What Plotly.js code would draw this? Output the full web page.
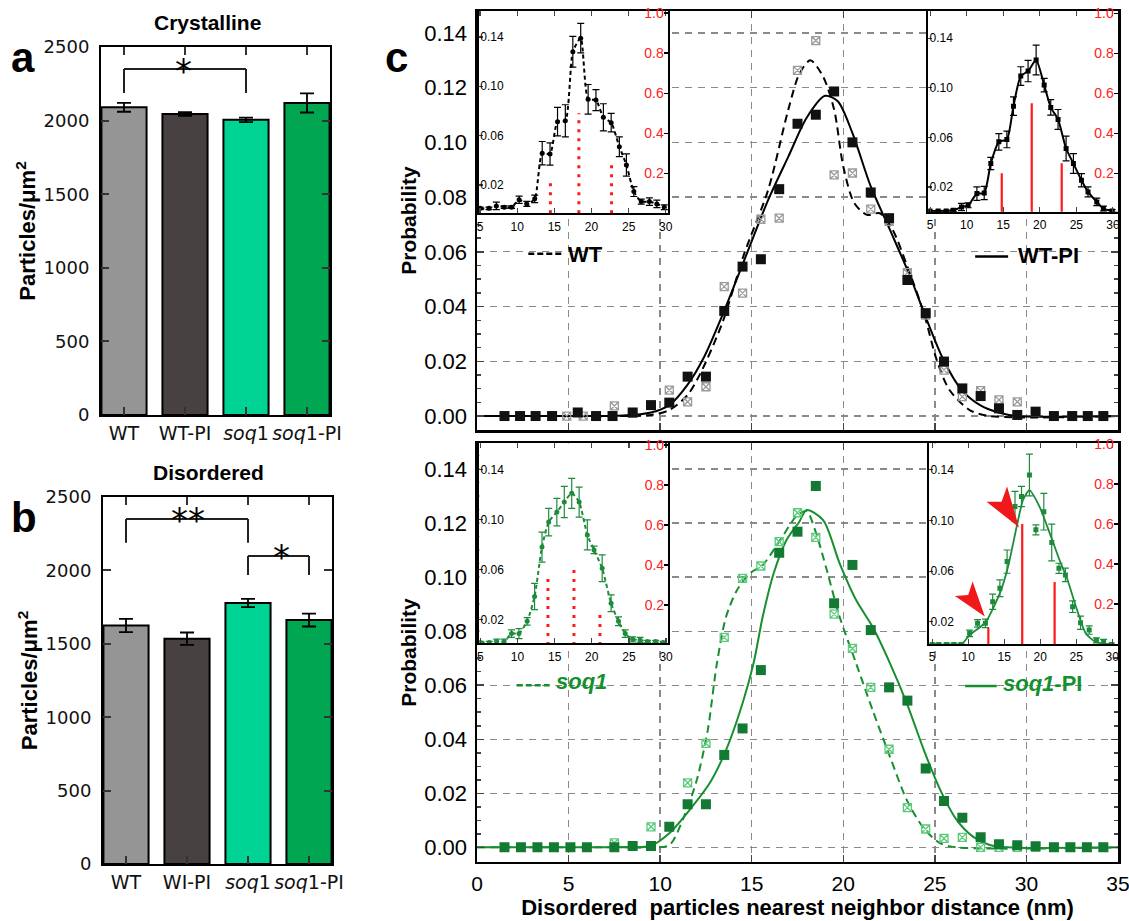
<!DOCTYPE html>
<html><head><meta charset="utf-8">
<script src="https://cdn.plot.ly/plotly-3.0.1.min.js"></script>
<style>html,body{margin:0;padding:0;background:#fff}</style>
</head><body><div id="chart" style="width:1129px;height:921px"></div>
<script>
// ---------------- DATA ----------------
// panels a / b (bar charts)
const barCatsA = ['WT', 'WT-PI', '<i>soq</i>1', '<i>soq</i>1-PI'];
const barCatsB = ['WT', 'WI-PI', '<i>soq</i>1', '<i>soq</i>1-PI'];
const crystallineVals = [2090, 2045, 2005, 2120];
const crystallineErr = [30, 12, 15, 65];
const disorderedVals = [1625, 1535, 1778, 1662];
const disorderedErr = [45, 42, 28, 44];
const barColors = ['#959595', '#474142', '#00d495', '#00a651'];

// panel c, top: WT / WT-PI histograms
const wtpiX = [1.5, 2.35, 3.2, 4.1, 5.5, 6.5, 7.4, 8.5, 9.5, 10.5, 11.5, 12.5, 13.5, 14.5, 15.5, 16.5, 17.5, 18.5, 19.5, 20.5, 21.5, 22.5, 23.5, 24.5, 25.5, 26.5, 27.5, 28.5, 29.5, 30.5, 31.5, 32.5, 33.35, 34.2];
const wtpiY = [0, 0, 0, 0, 0.0013, 0, 0, 0.0013, 0.004, 0.0049, 0.0144, 0.0144, 0.0384, 0.0546, 0.0573, 0.0829, 0.1068, 0.1101, 0.1186, 0.100, 0.0817, 0.0723, 0.0497, 0.0376, 0.0199, 0.0101, 0.0073, 0.0028, 0.0004, 0.0016, 0, 0, 0, 0];
const wtX = [4.9, 5.8, 7.5, 8.5, 10.5, 11.5, 12.5, 13.5, 14.5, 15.5, 16.5, 17.5, 18.5, 19.5, 20.5, 21.5, 22.5, 23.5, 24.5, 25.5, 26.5, 27.5, 28.5, 29.5, 30.5, 31.5, 32.5, 33.35, 34.2];
const wtY = [0, 0, 0.0037, 0.001, 0.0095, 0.0052, 0.0107, 0.0473, 0.0449, 0.0719, 0.0723, 0.1263, 0.1372, 0.0881, 0.0888, 0.0756, 0.0711, 0.0524, 0.0369, 0.0168, 0.0071, 0.0093, 0.0059, 0.0052, 0.0014, 0, 0, 0, 0];
const wtFitX = [0, 5, 8, 9.5, 10.5, 11.5, 12.2, 13.4, 14.6, 15.9, 17.0, 17.6, 18.2, 18.9, 19.5, 20.0, 20.6, 21.3, 22.0, 22.7, 23.5, 24.4, 25.1, 25.8, 26.9, 28, 35];
const wtFitY = [0, 0, 0, 0.0004, 0.0022, 0.0077, 0.0156, 0.0341, 0.0595, 0.0827, 0.112, 0.125, 0.130, 0.124, 0.112, 0.0912, 0.0778, 0.0735, 0.0741, 0.068, 0.0546, 0.0376, 0.0205, 0.0095, 0.0022, 0, 0];
const wtpiFitX = [0, 5, 8, 9.5, 10.5, 11.5, 12.4, 13.4, 14.6, 15.9, 17.0, 18.0, 19.0, 19.7, 20.5, 21.5, 22.55, 23.65, 24.56, 25.47, 26.47, 27.47, 28.47, 29.5, 35];
const wtpiFitY = [0, 0, 0.0002, 0.0013, 0.004, 0.0115, 0.0216, 0.0369, 0.0571, 0.079, 0.0948, 0.109, 0.117, 0.115, 0.1034, 0.0839, 0.068, 0.051, 0.0351, 0.0205, 0.0095, 0.004, 0.0013, 0, 0];

// panel c, bottom: soq1 / soq1-PI histograms
const soqpiX = [1.5, 2.4, 3.3, 4.2, 5.1, 6.0, 7.5, 8.5, 9.5, 10.5, 11.5, 12.5, 13.5, 14.5, 15.5, 16.5, 17.5, 18.5, 19.5, 20.5, 21.5, 22.5, 23.5, 24.5, 25.5, 26.5, 27.5, 28.5, 29.5, 30.5, 31.5, 32.4, 33.3, 34.2];
const soqpiY = [0, 0, 0, 0, 0, 0, 0, 0.0005, 0.0005, 0.0076, 0.016, 0.016, 0.0342, 0.044, 0.0656, 0.109, 0.1168, 0.1337, 0.0903, 0.1045, 0.0804, 0.0592, 0.0543, 0.0292, 0.0172, 0.011, 0.0037, 0.0012, 0.0008, 0.0004, 0, 0, 0, 0];
const soqX = [7.5, 9.5, 11.5, 12.5, 13.5, 14.5, 15.5, 16.5, 17.5, 18.5, 19.5, 20.5, 21.5, 22.5, 23.5, 24.5, 25.5, 26.5, 27.5, 28.5, 29.5, 30.5, 31.5, 32.4, 33.3, 34.2];
const soqY = [0.0017, 0.0076, 0.0239, 0.0385, 0.0777, 0.0995, 0.1041, 0.1131, 0.1238, 0.1147, 0.0863, 0.0736, 0.0592, 0.0363, 0.0147, 0.0068, 0.0033, 0.0037, 0, 0, 0, 0, 0, 0, 0, 0];
const soqFitX = [0, 5, 8, 9.47, 10.5, 11.3, 12.0, 12.6, 13.1, 13.6, 14.2, 14.9, 15.6, 16.5, 17.5, 18.0, 18.46, 19.1, 19.8, 20.7, 21.6, 22.55, 23.47, 24.4, 25.3, 26.2, 35];
const soqFitY = [0, 0, 0, 0, 0.0008, 0.0113, 0.0249, 0.0434, 0.0681, 0.0853, 0.0952, 0.1014, 0.1045, 0.1131, 0.123, 0.1244, 0.1174, 0.1026, 0.0853, 0.0681, 0.0508, 0.0335, 0.0175, 0.007, 0.0015, 0, 0];
const soqpiFitX = [0, 5, 8, 9.47, 10.5, 11.6, 12.7, 13.6, 14.5, 15.1, 15.6, 16.2, 16.9, 17.6, 18.0, 18.9, 19.8, 20.7, 21.6, 22.55, 23.47, 24.4, 25.3, 26.2, 27.1, 28.0, 29, 35];
const soqpiFitY = [0, 0, 0.0001, 0.0005, 0.0052, 0.0138, 0.0237, 0.036, 0.0533, 0.0681, 0.0853, 0.1014, 0.1137, 0.1205, 0.1248, 0.1211, 0.1051, 0.0915, 0.0816, 0.0681, 0.0533, 0.036, 0.0212, 0.0101, 0.0039, 0.0009, 0, 0];

// insets: crystalline distributions (x in nm, y probability, err)
const insWtX = [5.0, 6.2, 7.2, 8.25, 9.25, 10.26, 11.3, 12.36, 13.37, 14.42, 15.43, 16.48, 17.49, 18.55, 19.55, 20.6, 21.6, 22.65, 23.75, 24.7, 25.7, 26.7, 27.8, 28.8, 29.8];
const insWtY = [0.001, 0.001, 0.003, 0.002, 0.002, 0.008, 0.0046, 0.0087, 0.0457, 0.0451, 0.0713, 0.072, 0.128, 0.139, 0.0894, 0.0888, 0.0748, 0.0705, 0.051, 0.0362, 0.0146, 0.0065, 0.0065, 0.0046, 0.0019];
const insWtErr = [0.001, 0.001, 0.003, 0.001, 0.001, 0.003, 0.002, 0.003, 0.0095, 0.009, 0.0115, 0.013, 0.0125, 0.012, 0.012, 0.0085, 0.011, 0.0075, 0.008, 0.009, 0.004, 0.002, 0.003, 0.003, 0.002];
const insWtRedX = [14.47, 18.3, 22.7];
const insWtRedH = [0.158, 0.50, 0.253];

const insWtpiX = [4.97, 6.1, 7.2, 8.2, 9.3, 10.2, 11.4, 12.4, 13.3, 14.4, 15.5, 16.4, 17.4, 18.4, 19.5, 20.6, 21.5, 22.5, 23.6, 24.6, 25.7, 26.6, 27.8, 28.7, 29.9];
const insWtpiY = [0.0006, 0.0006, 0.0006, 0.0011, 0.0038, 0.0052, 0.0146, 0.0151, 0.0389, 0.0564, 0.0583, 0.0852, 0.1095, 0.1135, 0.1224, 0.1022, 0.0842, 0.0745, 0.051, 0.0389, 0.0254, 0.016, 0.0079, 0.0025, 0.0006];
const insWtpiErr = [0.0005, 0.0005, 0.0005, 0.001, 0.003, 0.002, 0.0054, 0.0054, 0.005, 0.0067, 0.0067, 0.0075, 0.0075, 0.0086, 0.012, 0.0054, 0.0062, 0.008, 0.01, 0.008, 0.0054, 0.004, 0.003, 0.002, 0.001];
const insWtpiRedX = [14.8, 18.9, 23.0];
const insWtpiRedH = [0.20, 0.55, 0.25];

const insSoqX = [5.0, 6.2, 7.2, 8.2, 9.2, 10.2, 11.3, 12.3, 13.3, 14.2, 15.3, 16.3, 17.3, 18.3, 19.4, 20.3, 21.4, 22.6, 23.6, 24.5, 25.5, 26.5, 27.5, 28.6, 29.6];
const insSoqY = [0.0016, 0.0016, 0.0024, 0.0024, 0.0088, 0.0088, 0.0186, 0.0385, 0.078, 0.098, 0.106, 0.114, 0.121, 0.114, 0.0877, 0.0757, 0.061, 0.033, 0.0186, 0.0088, 0.0042, 0.0037, 0.0024, 0.0024, 0.0016];
const insSoqErr = [0.001, 0.001, 0.002, 0.002, 0.003, 0.004, 0.003, 0.0105, 0.012, 0.011, 0.011, 0.0125, 0.012, 0.012, 0.012, 0.003, 0.0107, 0.0067, 0.0035, 0.003, 0.002, 0.002, 0.001, 0.001, 0.001];
const insSoqRedX = [14.1, 17.6, 21.1];
const insSoqRedH = [0.34, 0.405, 0.18];

const insSoqpiX = [5.0, 5.9, 7.0, 8.0, 9.0, 10.2, 11.3, 12.4, 13.4, 14.4, 15.4, 16.5, 17.4, 18.5, 19.4, 20.5, 21.6, 22.6, 23.5, 24.5, 25.6, 26.8, 27.8, 28.8, 29.9];
const insSoqpiY = [0.002, 0.002, 0.002, 0.002, 0.002, 0.0108, 0.0187, 0.0187, 0.0358, 0.0464, 0.0675, 0.111, 0.119, 0.136, 0.0926, 0.107, 0.0826, 0.0622, 0.057, 0.0319, 0.0192, 0.0134, 0.0053, 0.004, 0.002];
const insSoqpiErr = [0.001, 0.001, 0.001, 0.001, 0.001, 0.0026, 0.003, 0.0033, 0.006, 0.0066, 0.0092, 0.012, 0.008, 0.0165, 0.004, 0.0145, 0.0145, 0.004, 0.0053, 0.0046, 0.0053, 0.0033, 0.002, 0.002, 0.001];
const insSoqpiFitX = [5, 9.0, 10.2, 12.4, 14.5, 15.6, 16.8, 17.6, 18.5, 19.9, 21.0, 22.6, 23.8, 24.9, 26.3, 27.7, 30];
const insSoqpiFitY = [0.002, 0.002, 0.0095, 0.0195, 0.044, 0.065, 0.097, 0.116, 0.124, 0.111, 0.095, 0.07, 0.053, 0.033, 0.011, 0.004, 0.002];
const insSoqpiRedX = [12.8, 17.5, 22.0];
const insSoqpiRedH = [0.08, 0.60, 0.31];

// ---------------- HELPERS ----------------
const W = 1129, H = 921;
const dx = v => v / W;
const dy = v => 1 - v / H;
function stems(xs, hs) {
  const x = [], y = [];
  xs.forEach((v, i) => { x.push(v, v, null); y.push(0, hs[i], null); });
  return {x, y};
}
const GREEN = '#16902f', GREEN_DK = '#137a33', GREEN_LT = '#5cc97b', RED = '#ff1a1a';
const SANS = '"Liberation Sans", Arial, sans-serif';
const DEJ = '"DejaVu Sans", Verdana, sans-serif';

const traces = [];
// bars
traces.push({type: 'bar', x: barCatsA, y: crystallineVals, xaxis: 'x', yaxis: 'y', width: 0.74,
  marker: {color: barColors, line: {color: '#000', width: 2}},
  error_y: {type: 'data', array: crystallineErr, color: '#000', thickness: 1.8, width: 7}, showlegend: false});
traces.push({type: 'bar', x: barCatsB, y: disorderedVals, xaxis: 'x2', yaxis: 'y2', width: 0.74,
  marker: {color: barColors, line: {color: '#000', width: 2}},
  error_y: {type: 'data', array: disorderedErr, color: '#000', thickness: 1.8, width: 7}, showlegend: false});

// main c top
traces.push({type: 'scatter', mode: 'lines', x: wtFitX, y: wtFitY, xaxis: 'x3', yaxis: 'y3', line: {color: '#000', width: 2, dash: '8px,5px', shape: 'spline', smoothing: 0.8}, name: 'WT fit'});
traces.push({type: 'scatter', mode: 'lines', x: wtpiFitX, y: wtpiFitY, xaxis: 'x3', yaxis: 'y3', line: {color: '#000', width: 2, shape: 'spline', smoothing: 0.8}, name: 'WT-PI fit'});
traces.push({type: 'scatter', mode: 'markers', x: wtX, y: wtY, xaxis: 'x3', yaxis: 'y3', marker: {symbol: 'square-x-open', size: 8, color: '#9a9a9a', line: {width: 1.3}}, name: 'WT'});
traces.push({type: 'scatter', mode: 'markers', x: wtpiX, y: wtpiY, xaxis: 'x3', yaxis: 'y3', marker: {symbol: 'square', size: 10, color: '#111'}, name: 'WT-PI'});
// main c bottom
traces.push({type: 'scatter', mode: 'lines', x: soqFitX, y: soqFitY, xaxis: 'x4', yaxis: 'y4', line: {color: GREEN, width: 2, dash: '8px,5px', shape: 'spline', smoothing: 0.8}, name: 'soq1 fit'});
traces.push({type: 'scatter', mode: 'lines', x: soqpiFitX, y: soqpiFitY, xaxis: 'x4', yaxis: 'y4', line: {color: GREEN, width: 2, shape: 'spline', smoothing: 0.8}, name: 'soq1-PI fit'});
traces.push({type: 'scatter', mode: 'markers', x: soqX, y: soqY, xaxis: 'x4', yaxis: 'y4', marker: {symbol: 'square-x-open', size: 8, color: GREEN_LT, line: {width: 1.3}}, name: 'soq1'});
traces.push({type: 'scatter', mode: 'markers', x: soqpiX, y: soqpiY, xaxis: 'x4', yaxis: 'y4', marker: {symbol: 'square', size: 10, color: GREEN_DK}, name: 'soq1-PI'});

// insets
function inset(xa, ya, yr, X, Y, E, col, dash, sym, redX, redH, redDash, fitX, fitY) {
  const s = stems(redX, redH);
  traces.push({type: 'scatter', mode: 'lines', x: s.x, y: s.y, xaxis: xa, yaxis: yr,
    line: {color: RED, width: redDash ? 3 : 2.2, dash: redDash ? '3px,6px' : 'solid'}, connectgaps: false, hoverinfo: 'skip'});
  if (fitX) {
    traces.push({type: 'scatter', mode: 'lines', x: fitX, y: fitY, xaxis: xa, yaxis: ya,
      line: {color: col, width: 1.8, shape: 'spline', smoothing: 0.6}});
  }
  traces.push({type: 'scatter', mode: fitX ? 'markers' : 'lines+markers', x: X, y: Y, xaxis: xa, yaxis: ya,
    line: {color: col, width: 2, dash: dash, shape: 'spline', smoothing: 0.6},
    marker: {symbol: sym, size: 5, color: col},
    error_y: {type: 'data', array: E, color: col, thickness: 1.2, width: 3.5}});
}
inset('x5', 'y5', 'y6', insWtX, insWtY, insWtErr, '#000', '4px,3px', 'circle', insWtRedX, insWtRedH, true);
inset('x6', 'y7', 'y8', insWtpiX, insWtpiY, insWtpiErr, '#000', 'solid', 'square', insWtpiRedX, insWtpiRedH, false);
inset('x7', 'y9', 'y10', insSoqX, insSoqY, insSoqErr, '#1c8c3a', '4px,3px', 'circle', insSoqRedX, insSoqRedH, true);
inset('x8', 'y11', 'y12', insSoqpiX, insSoqpiY, insSoqpiErr, '#1c8c3a', 'solid', 'square', insSoqpiRedX, insSoqpiRedH, false, insSoqpiFitX, insSoqpiFitY);

// ---------------- LAYOUT ----------------
const barX = (dom, anchor) => ({domain: dom, anchor: anchor, type: 'category', range: [-0.377, 3.377],
  showline: true, linecolor: '#000', linewidth: 2, mirror: 'ticks', ticks: 'inside', ticklen: 8, tickwidth: 2, tickcolor: '#333',
  tickfont: {family: DEJ, size: 19, color: '#111'}, showgrid: false, zeroline: false, fixedrange: true});
const barY = (dom, anchor) => ({domain: dom, anchor: anchor, range: [0, 2500], dtick: 500,
  showline: true, linecolor: '#000', linewidth: 2, mirror: 'ticks', ticks: 'inside', ticklen: 8, tickwidth: 2, tickcolor: '#333',
  tickfont: {family: DEJ, size: 18, color: '#111'}, ticklabelstandoff: 6, showgrid: false, zeroline: false,
  title: {text: '<b>Particles/μm<sup>2</sup></b>', font: {family: SANS, size: 22, color: '#000'}, standoff: 2}});
const mainX = (anchor, labels) => ({domain: [dx(477), dx(1118)], anchor: anchor, range: [0, 35], dtick: 5, tick0: 0,
  showline: true, linecolor: '#000', linewidth: 2.5, mirror: 'ticks', ticks: 'inside', ticklen: 7, tickwidth: 1.5,
  showticklabels: labels, tickfont: {family: SANS, size: 21, color: '#000'}, ticklabelstandoff: 2, ticklabeloverflow: 'allow',
  showgrid: true, gridcolor: '#8a8a8a', griddash: '7px,6px', gridwidth: 1.3, zeroline: false});
const mainY = (dom, anchor, rng) => ({domain: dom, anchor: anchor, range: rng, dtick: 0.02, tick0: 0, tickformat: '.2f',
  showline: true, linecolor: '#000', linewidth: 2.5, mirror: 'ticks', ticks: 'inside', ticklen: 7, tickwidth: 1.5,
  minor: {dtick: 0.005, ticks: 'inside', ticklen: 4, tickcolor: '#444', showgrid: false},
  tickfont: {family: SANS, size: 22, color: '#000'}, ticklabelstandoff: 3,
  showgrid: true, gridcolor: '#8a8a8a', griddash: '7px,6px', gridwidth: 1.3, zeroline: false});
const insX = (dom, anchor, rng) => ({domain: dom, anchor: anchor, range: rng, dtick: 5, tick0: 0,
  showline: true, linecolor: '#000', linewidth: 2, mirror: 'ticks', ticks: 'inside', ticklen: 5, tickwidth: 1.2,
  tickfont: {family: SANS, size: 12, color: '#000'}, ticklabelstandoff: 1, ticklabeloverflow: 'allow',
  showgrid: false, zeroline: false});
const insYL = (dom, anchor, rng) => ({domain: dom, anchor: anchor, range: rng,
  tickvals: [0.02, 0.06, 0.10, 0.14], ticktext: ['0.02', '0.06', '0.10', '0.14'],
  showline: true, linecolor: '#000', linewidth: 2, ticks: 'inside', ticklen: 4, tickwidth: 1.2,
  ticklabelposition: 'outside', ticklabelstandoff: -29, ticklabeloverflow: 'allow',
  tickfont: {family: SANS, size: 12, color: '#000'}, showgrid: false, zeroline: false});
const insYR = (over, anchor, rng) => ({overlaying: over, anchor: anchor, side: 'right', range: rng,
  tickvals: [0.2, 0.4, 0.6, 0.8, 1.0], ticktext: ['0.2', '0.4', '0.6', '0.8', '1.0'],
  showline: true, linecolor: '#000', linewidth: 2, ticks: 'inside', ticklen: 4, tickwidth: 1.2, tickcolor: '#000',
  ticklabelposition: 'inside', ticklabeloverflow: 'allow', tickfont: {family: SANS, size: 14, color: '#ff2020'},
  showgrid: false, zeroline: false});

const ann = (text, x, y, font, xref, yref) => ({text, x, y, xref: xref || 'paper', yref: yref || 'paper',
  xanchor: 'center', yanchor: 'middle', showarrow: false, font});

const layout = {
  width: W, height: H, autosize: false, margin: {l: 0, r: 0, t: 0, b: 0, pad: 0},
  paper_bgcolor: '#fff', plot_bgcolor: '#fff', showlegend: false, bargap: 0,
  font: {family: SANS, color: '#000'},
  xaxis: barX([dx(101), dx(330)], 'y'),
  yaxis: barY([dy(415), dy(47)], 'x'),
  xaxis2: barX([dx(103), dx(332)], 'y2'),
  yaxis2: barY([dy(864), dy(497)], 'x2'),
  xaxis3: mainX('y3', false),
  yaxis3: Object.assign(mainY([dy(430), dy(11)], 'x3', [-0.0051, 0.148]),
    {title: {text: '<b>Probability</b>', font: {family: SANS, size: 21}, standoff: 2}}),
  xaxis4: Object.assign(mainX('y4', true),
    {title: {text: '<b>Disordered  particles nearest neighbor distance (nm)</b>', font: {family: SANS, size: 22}, standoff: 2}}),
  yaxis4: Object.assign(mainY([dy(861.7), dy(443.3)], 'x4', [-0.0053, 0.1495]),
    {title: {text: '<b>Probability</b>', font: {family: SANS, size: 21}, standoff: 2}}),
  xaxis5: insX([dx(479), dx(668)], 'y5', [4.86, 30.3]),
  yaxis5: insYL([dy(213.3), dy(11)], 'x5', [-0.003, 0.161]),
  yaxis6: insYR('y5', 'x5', [0, 1.01]),
  xaxis6: insX([dx(928.3), dx(1118)], 'y7', [4.75, 30.7]),
  yaxis7: insYL([dy(211.7), dy(11)], 'x6', [0, 0.162]),
  yaxis8: insYR('y7', 'x6', [0.008, 1.011]),
  xaxis7: insX([dx(479.3), dx(668.3)], 'y9', [4.86, 30.3]),
  yaxis9: insYL([dy(643.3), dy(443.3)], 'x7', [0.001, 0.161]),
  yaxis10: insYR('y9', 'x7', [0.0085, 1.0085]),
  xaxis8: insX([dx(929.3), dx(1118)], 'y11', [4.6, 30.8]),
  yaxis11: insYL([dy(644), dy(443.3)], 'x8', [0.0024, 0.161]),
  yaxis12: insYR('y11', 'x8', [0, 1.0035]),
  shapes: [
    // significance brackets (a)
    {type: 'line', xref: 'x', yref: 'y', x0: 0, x1: 0, y0: 2187, y1: 2350, line: {color: '#222', width: 2}},
    {type: 'line', xref: 'x', yref: 'y', x0: 0, x1: 2, y0: 2350, y1: 2350, line: {color: '#222', width: 2}},
    {type: 'line', xref: 'x', yref: 'y', x0: 2, x1: 2, y0: 2187, y1: 2350, line: {color: '#222', width: 2}},
    // brackets (b)
    {type: 'line', xref: 'x2', yref: 'y2', x0: 0, x1: 0, y0: 2189, y1: 2350, line: {color: '#222', width: 2}},
    {type: 'line', xref: 'x2', yref: 'y2', x0: 0, x1: 2, y0: 2350, y1: 2350, line: {color: '#222', width: 2}},
    {type: 'line', xref: 'x2', yref: 'y2', x0: 2, x1: 2, y0: 2189, y1: 2350, line: {color: '#222', width: 2}},
    {type: 'line', xref: 'x2', yref: 'y2', x0: 2, x1: 2, y0: 1968, y1: 2098, line: {color: '#222', width: 2}},
    {type: 'line', xref: 'x2', yref: 'y2', x0: 2, x1: 3, y0: 2098, y1: 2098, line: {color: '#222', width: 2}},
    {type: 'line', xref: 'x2', yref: 'y2', x0: 3, x1: 3, y0: 1968, y1: 2098, line: {color: '#222', width: 2}},
    // legend line samples
    {type: 'line', xref: 'x3', yref: 'y3', x0: 2.8, x1: 4.7, y0: 0.0593, y1: 0.0593, line: {color: '#000', width: 2.5, dash: '6px,3px'}},
    {type: 'line', xref: 'x3', yref: 'y3', x0: 27.2, x1: 29.0, y0: 0.0583, y1: 0.0583, line: {color: '#000', width: 2.5}},
    {type: 'line', xref: 'x4', yref: 'y4', x0: 2.17, x1: 3.99, y0: 0.060, y1: 0.060, line: {color: GREEN, width: 2.5, dash: '6px,3px'}},
    {type: 'line', xref: 'x4', yref: 'y4', x0: 26.65, x1: 28.38, y0: 0.0597, y1: 0.0597, line: {color: GREEN, width: 2.5}},
    // red arrowheads in soq1-PI inset
    {type: 'path', xref: 'x8', yref: 'y12', path: 'M 17.06 0.583 L 12.55 0.711 L 14.63 0.711 L 15.4 0.787 Z', fillcolor: '#f01818', line: {width: 0}},
    {type: 'path', xref: 'x8', yref: 'y12', path: 'M 12.31 0.137 L 8.16 0.24 L 10.0 0.245 L 10.61 0.312 Z', fillcolor: '#f01818', line: {width: 0}}
  ],
  annotations: [
    ann('<b>Crystalline</b>', dx(207), dy(22), {family: SANS, size: 21}),
    ann('<b>Disordered</b>', dx(208), dy(472), {family: SANS, size: 21}),
    ann('<b>a</b>', dx(23), dy(57), {family: SANS, size: 42}),
    ann('<b>b</b>', dx(24), dy(517), {family: SANS, size: 42}),
    ann('<b>c</b>', dx(396), dy(57), {family: SANS, size: 42}),
    ann('*', dx(183), dy(71), {family: DEJ, size: 34}),
    ann('**', dx(188), dy(520), {family: DEJ, size: 34}),
    ann('*', dx(281), dy(557), {family: DEJ, size: 34}),
    ann('<b>WT</b>', 5.95, 0.059, {family: SANS, size: 22}, 'x3', 'y3'),
    ann('<b>WT-PI</b>', 31.2, 0.0585, {family: SANS, size: 22}, 'x3', 'y3'),
    ann('<b><i>soq1</i></b>', 5.68, 0.0615, {family: SANS, size: 22, color: GREEN}, 'x4', 'y4'),
    ann('<b><i>soq1</i>-PI</b>', 30.9, 0.0605, {family: SANS, size: 22, color: GREEN}, 'x4', 'y4')
  ]
};

Plotly.newPlot('chart', traces, layout, {displayModeBar: false, staticPlot: true});
</script>
</body></html>
